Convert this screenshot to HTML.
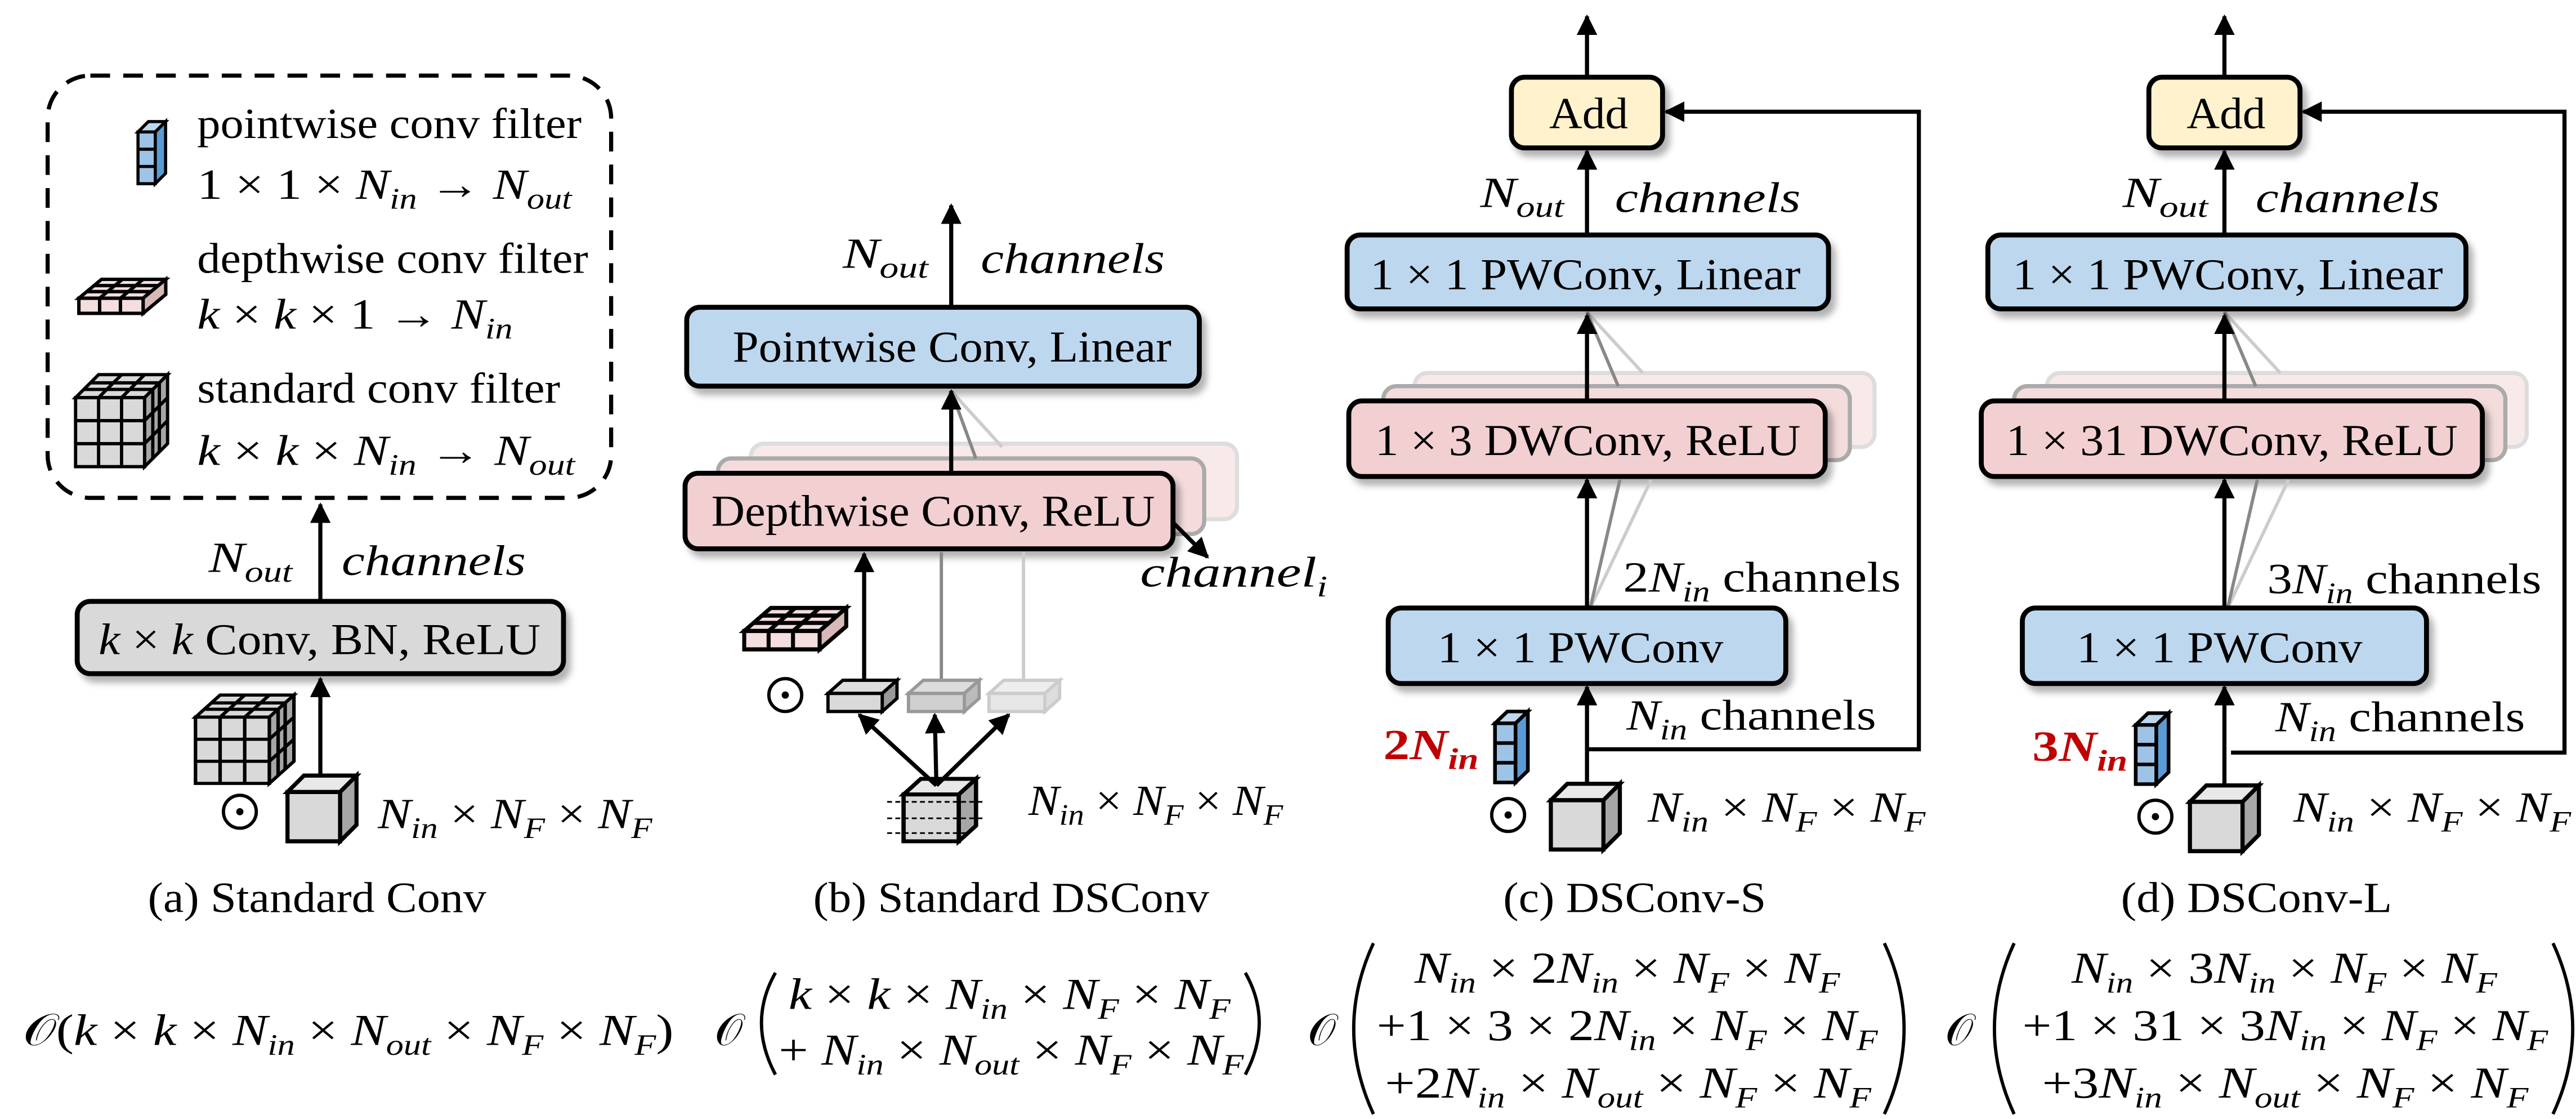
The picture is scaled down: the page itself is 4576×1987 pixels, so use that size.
<!DOCTYPE html>
<html><head><meta charset="utf-8">
<style>
html,body{margin:0;padding:0;background:#fff;}
svg{display:block;}
svg text{font-family:"Liberation Serif","DejaVu Serif","Times New Roman",serif;fill:#000;}
.i{font-style:italic;}
.s{font-size:18px;font-style:italic;}
</style></head>
<body>
<svg width="4576" height="1987" viewBox="0 0 1568 681" preserveAspectRatio="none" xmlns="http://www.w3.org/2000/svg" font-family="Liberation Serif, DejaVu Serif, serif">
<defs>
<marker id="ah" viewBox="0 0 10 10" refX="9" refY="5" markerWidth="5" markerHeight="5" orient="auto-start-reverse"><path d="M0,0 L10,5 L0,10 z" fill="#000"/></marker>
<filter id="sh" x="-10%" y="-10%" width="130%" height="140%"><feDropShadow dx="3" dy="4" stdDeviation="2" flood-color="#000" flood-opacity="0.3"/></filter>
<g id="gridcube" stroke="#000" stroke-width="2" fill="#d9d9d9">
 <polygon points="0,14 14,0 56,0 42,14"/>
 <polygon points="42,14 56,0 56,42 42,56" fill="#a6a6a6"/>
 <rect x="0" y="14" width="42" height="42"/>
 <path d="M14,14V56M28,14V56M0,28H42M0,42H42M5,9H47M9,5H51M14,14L28,0M28,14L42,0M47,9V51M51,5V47M42,28L56,14M42,42L56,28" fill="none"/>
</g>
<g id="pw" stroke="#000" stroke-width="1.8" fill="#9dc3e6">
 <polygon points="0,6 6,0 16,0 10,6" fill="#bdd7ee"/>
 <polygon points="10,6 16,0 16,30 10,36" fill="#5b9bd5"/>
 <rect x="0" y="6" width="10" height="30"/>
 <path d="M0,16H10M0,26H10" fill="none"/>
</g>
<g id="dw" stroke="#000" stroke-width="1.8" fill="#f4dede">
 <polygon points="0,10 12,0 46,0 34,10"/>
 <polygon points="34,10 46,0 46,8 34,18" fill="#d9b8b8"/>
 <rect x="0" y="10" width="34" height="8"/>
 <path d="M11,10V18M22,10V18M11,10L23,0M22,10L34,0M4,6.5H38M8,3.3H42" fill="none"/>
</g>
<g id="cube" stroke="#000" stroke-width="2.5" fill="#d9d9d9">
 <polygon points="0,10 10,0 42,0 32,10" fill="#e8e8e8"/>
 <polygon points="32,10 42,0 42,30 32,40" fill="#a6a6a6"/>
 <rect x="0" y="10" width="32" height="30"/>
</g>
</defs>

<!-- Legend -->
<rect x="29" y="46" width="343" height="257" rx="26" fill="none" stroke="#000" stroke-width="2.5" stroke-dasharray="12,8"/>
<use href="#pw" transform="translate(84,74) scale(1.05)"/>
<text x="120" y="84" font-size="26" textLength="234" lengthAdjust="spacingAndGlyphs">pointwise conv filter</text>
<text x="120" y="121" font-size="26" textLength="228" lengthAdjust="spacingAndGlyphs">1 × 1 × <tspan class="i">N</tspan><tspan class="s" dy="6">in</tspan><tspan dy="-6"> → </tspan><tspan class="i">N</tspan><tspan class="s" dy="6">out</tspan></text>
<use href="#dw" transform="translate(48,170) scale(1.15)"/>
<text x="120" y="166" font-size="26" textLength="238" lengthAdjust="spacingAndGlyphs">depthwise conv filter</text>
<text x="120" y="200" font-size="26" textLength="192" lengthAdjust="spacingAndGlyphs"><tspan class="i">k</tspan> × <tspan class="i">k</tspan> × 1 → <tspan class="i">N</tspan><tspan class="s" dy="6">in</tspan></text>
<use href="#gridcube" x="46" y="228"/>
<text x="120" y="245" font-size="26" textLength="221" lengthAdjust="spacingAndGlyphs">standard conv filter</text>
<text x="120" y="283" font-size="26" textLength="230" lengthAdjust="spacingAndGlyphs"><tspan class="i">k</tspan> × <tspan class="i">k</tspan> × <tspan class="i">N</tspan><tspan class="s" dy="6">in</tspan><tspan dy="-6"> → </tspan><tspan class="i">N</tspan><tspan class="s" dy="6">out</tspan></text>

<!-- (a) -->
<line x1="195" y1="366" x2="195" y2="307" stroke="#000" stroke-width="2.5" marker-end="url(#ah)"/>
<text x="127" y="348" font-size="26" textLength="51" lengthAdjust="spacingAndGlyphs"><tspan class="i">N</tspan><tspan class="s" dy="6">out</tspan></text>
<text x="208" y="350" font-size="26" class="i" textLength="112" lengthAdjust="spacingAndGlyphs">channels</text>
<rect x="47" y="366" width="296" height="44" rx="8" fill="#d9d9d9" stroke="#000" stroke-width="3" filter="url(#sh)"/>
<text x="60" y="398" font-size="27" textLength="269" lengthAdjust="spacingAndGlyphs"><tspan class="i">k</tspan> × <tspan class="i">k</tspan> Conv, BN, ReLU</text>
<line x1="195" y1="478" x2="195" y2="413" stroke="#000" stroke-width="2.5" marker-end="url(#ah)"/>
<use href="#gridcube" transform="translate(119,423) scale(1.07,0.96)"/>
<circle cx="146" cy="494" r="10" fill="none" stroke="#000" stroke-width="2"/><circle cx="146" cy="494" r="2.2" fill="#000"/>
<use href="#cube" x="175" y="472"/>
<text x="230" y="504" font-size="26" textLength="167" lengthAdjust="spacingAndGlyphs"><tspan class="i">N</tspan><tspan class="s" dy="6">in</tspan><tspan dy="-6"> × </tspan><tspan class="i">N</tspan><tspan class="s" dy="6">F</tspan><tspan dy="-6"> × </tspan><tspan class="i">N</tspan><tspan class="s" dy="6">F</tspan></text>
<text x="90" y="555" font-size="26" textLength="206" lengthAdjust="spacingAndGlyphs">(a) Standard Conv</text>

<!-- (b) -->
<line x1="579" y1="187" x2="579" y2="125" stroke="#000" stroke-width="2.5" marker-end="url(#ah)"/>
<text x="513" y="163" font-size="26" textLength="52" lengthAdjust="spacingAndGlyphs"><tspan class="i">N</tspan><tspan class="s" dy="6">out</tspan></text>
<text x="597" y="166" font-size="26" class="i" textLength="112" lengthAdjust="spacingAndGlyphs">channels</text>
<rect x="457" y="270" width="296" height="46" rx="8" fill="#f9eaea" stroke="#ddd" stroke-width="2.5"/>
<rect x="437" y="279" width="296" height="46" rx="8" fill="#f4dcdc" stroke="#aaa" stroke-width="2.5"/>
<line x1="579" y1="238" x2="610" y2="272" stroke="#ccc" stroke-width="2"/>
<line x1="579" y1="238" x2="594" y2="279" stroke="#888" stroke-width="2"/>
<rect x="418" y="187" width="312" height="48" rx="8" fill="#bdd7ee" stroke="#000" stroke-width="3" filter="url(#sh)"/>
<text x="446" y="220" font-size="27" textLength="267" lengthAdjust="spacingAndGlyphs">Pointwise Conv, Linear</text>
<rect x="417" y="288" width="297" height="46" rx="8" fill="#f2cfd1" stroke="#000" stroke-width="3" filter="url(#sh)"/>
<text x="433" y="320" font-size="27" textLength="270" lengthAdjust="spacingAndGlyphs">Depthwise Conv, ReLU</text>
<line x1="579" y1="288" x2="579" y2="238" stroke="#000" stroke-width="2.5" marker-end="url(#ah)"/>
<line x1="714" y1="318" x2="735" y2="339" stroke="#000" stroke-width="2.5" marker-end="url(#ah)"/>
<text x="694" y="357" font-size="26" class="i" textLength="114" lengthAdjust="spacingAndGlyphs">channel<tspan class="s" dy="6">i</tspan></text>
<line x1="573" y1="414" x2="573" y2="336" stroke="#888" stroke-width="2"/>
<line x1="623" y1="414" x2="623" y2="336" stroke="#ccc" stroke-width="2"/>
<line x1="526" y1="414" x2="526" y2="337" stroke="#000" stroke-width="2.5" marker-end="url(#ah)"/>
<use href="#dw" transform="translate(453,370) scale(1.35,1.4)"/>
<circle cx="478" cy="423" r="10" fill="none" stroke="#000" stroke-width="2"/><circle cx="478" cy="423" r="2.2" fill="#000"/>
<g stroke-width="2">
<polygon points="504,422 513,414 546,414 537,422" fill="#ddd" stroke="#000"/><polygon points="537,422 546,414 546,425 537,433" fill="#999" stroke="#000"/><rect x="504" y="422" width="33" height="11" fill="#d9d9d9" stroke="#000"/>
<polygon points="553,422 562,414 596,414 587,422" fill="#ddd" stroke="#999"/><polygon points="587,422 596,414 596,425 587,433" fill="#bbb" stroke="#999"/><rect x="553" y="422" width="34" height="11" fill="#d0d0d0" stroke="#999"/>
<polygon points="602,422 611,414 645,414 636,422" fill="#eee" stroke="#ccc"/><polygon points="636,422 645,414 645,425 636,433" fill="#ddd" stroke="#ccc"/><rect x="602" y="422" width="34" height="11" fill="#e6e6e6" stroke="#ccc"/>
</g>
<use href="#cube" transform="translate(550,474) scale(1.05,0.95)"/>
<path d="M540,488H598M540,498H598M540,507H590" stroke="#000" stroke-width="1" stroke-dasharray="3,2"/>
<line x1="570" y1="478" x2="523" y2="435" stroke="#000" stroke-width="2.5" marker-end="url(#ah)"/>
<line x1="570" y1="478" x2="569" y2="435" stroke="#000" stroke-width="2.5" marker-end="url(#ah)"/>
<line x1="570" y1="478" x2="614" y2="435" stroke="#000" stroke-width="2.5" marker-end="url(#ah)"/>
<text x="626" y="496" font-size="26" textLength="155" lengthAdjust="spacingAndGlyphs"><tspan class="i">N</tspan><tspan class="s" dy="6">in</tspan><tspan dy="-6"> × </tspan><tspan class="i">N</tspan><tspan class="s" dy="6">F</tspan><tspan dy="-6"> × </tspan><tspan class="i">N</tspan><tspan class="s" dy="6">F</tspan></text>
<text x="495" y="555" font-size="26" textLength="241" lengthAdjust="spacingAndGlyphs">(b) Standard DSConv</text>

<!-- (c) -->
<line x1="966" y1="47" x2="966" y2="10" stroke="#000" stroke-width="2.5" marker-end="url(#ah)"/>
<rect x="920" y="47" width="92" height="43" rx="8" fill="#fff2cc" stroke="#000" stroke-width="3" filter="url(#sh)"/>
<text x="943" y="78" font-size="27" textLength="48" lengthAdjust="spacingAndGlyphs">Add</text>
<line x1="966" y1="143" x2="966" y2="92" stroke="#000" stroke-width="2.5" marker-end="url(#ah)"/>
<text x="901" y="126" font-size="26" textLength="51" lengthAdjust="spacingAndGlyphs"><tspan class="i">N</tspan><tspan class="s" dy="6">out</tspan></text>
<text x="983" y="129" font-size="26" class="i" textLength="113" lengthAdjust="spacingAndGlyphs">channels</text>
<rect x="861" y="227" width="280" height="45" rx="8" fill="#f9eaea" stroke="#ddd" stroke-width="2.5"/>
<rect x="842" y="235" width="284" height="45" rx="8" fill="#f4dcdc" stroke="#aaa" stroke-width="2.5"/>
<line x1="966" y1="190" x2="1000" y2="227" stroke="#ccc" stroke-width="2"/>
<line x1="966" y1="190" x2="985" y2="235" stroke="#888" stroke-width="2"/>
<rect x="820" y="143" width="293" height="45" rx="8" fill="#bdd7ee" stroke="#000" stroke-width="3" filter="url(#sh)"/>
<text x="834" y="176" font-size="27" textLength="262" lengthAdjust="spacingAndGlyphs">1 × 1 PWConv, Linear</text>
<rect x="821" y="244" width="290" height="46" rx="8" fill="#f2cfd1" stroke="#000" stroke-width="3" filter="url(#sh)"/>
<text x="837" y="277" font-size="27" textLength="259" lengthAdjust="spacingAndGlyphs">1 × 3 DWConv, ReLU</text>
<line x1="966" y1="244" x2="966" y2="192" stroke="#000" stroke-width="2.5" marker-end="url(#ah)"/>
<line x1="968" y1="370" x2="1005" y2="292" stroke="#ccc" stroke-width="2"/>
<line x1="968" y1="370" x2="986" y2="292" stroke="#888" stroke-width="2"/>
<line x1="966" y1="370" x2="966" y2="292" stroke="#000" stroke-width="2.5" marker-end="url(#ah)"/>
<text x="988" y="360" font-size="26" textLength="169" lengthAdjust="spacingAndGlyphs">2<tspan class="i">N</tspan><tspan class="s" dy="6">in</tspan><tspan dy="-6"> channels</tspan></text>
<rect x="845" y="370" width="242" height="46" rx="8" fill="#bdd7ee" stroke="#000" stroke-width="3" filter="url(#sh)"/>
<text x="875" y="403" font-size="27" textLength="174" lengthAdjust="spacingAndGlyphs">1 × 1 PWConv</text>
<line x1="966" y1="478" x2="966" y2="418" stroke="#000" stroke-width="2.5" marker-end="url(#ah)"/>
<polyline points="966,456 1168,456 1168,68 1014,68" fill="none" stroke="#000" stroke-width="2.5" marker-end="url(#ah)"/>
<text x="990" y="444" font-size="26" textLength="152" lengthAdjust="spacingAndGlyphs"><tspan class="i">N</tspan><tspan class="s" dy="6">in</tspan><tspan dy="-6"> channels</tspan></text>
<text x="842" y="462" font-size="26" font-weight="bold" style="fill:#c00000" textLength="58" lengthAdjust="spacingAndGlyphs">2<tspan class="i">N</tspan><tspan class="s" dy="6">in</tspan></text>
<use href="#pw" transform="translate(910,433) scale(1.25,1.2)"/>
<circle cx="918" cy="496" r="10" fill="none" stroke="#000" stroke-width="2"/><circle cx="918" cy="496" r="2.2" fill="#000"/>
<use href="#cube" x="944" y="477"/>
<text x="1003" y="500" font-size="26" textLength="169" lengthAdjust="spacingAndGlyphs"><tspan class="i">N</tspan><tspan class="s" dy="6">in</tspan><tspan dy="-6"> × </tspan><tspan class="i">N</tspan><tspan class="s" dy="6">F</tspan><tspan dy="-6"> × </tspan><tspan class="i">N</tspan><tspan class="s" dy="6">F</tspan></text>
<text x="915" y="555" font-size="26" textLength="160" lengthAdjust="spacingAndGlyphs">(c) DSConv-S</text>

<!-- (d) -->
<line x1="1354" y1="47" x2="1354" y2="10" stroke="#000" stroke-width="2.5" marker-end="url(#ah)"/>
<rect x="1308" y="47" width="92" height="43" rx="8" fill="#fff2cc" stroke="#000" stroke-width="3" filter="url(#sh)"/>
<text x="1331" y="78" font-size="27" textLength="48" lengthAdjust="spacingAndGlyphs">Add</text>
<line x1="1354" y1="143" x2="1354" y2="92" stroke="#000" stroke-width="2.5" marker-end="url(#ah)"/>
<text x="1292" y="126" font-size="26" textLength="52" lengthAdjust="spacingAndGlyphs"><tspan class="i">N</tspan><tspan class="s" dy="6">out</tspan></text>
<text x="1373" y="129" font-size="26" class="i" textLength="112" lengthAdjust="spacingAndGlyphs">channels</text>
<rect x="1246" y="227" width="292" height="45" rx="8" fill="#f9eaea" stroke="#ddd" stroke-width="2.5"/>
<rect x="1226" y="235" width="299" height="45" rx="8" fill="#f4dcdc" stroke="#aaa" stroke-width="2.5"/>
<line x1="1354" y1="190" x2="1388" y2="227" stroke="#ccc" stroke-width="2"/>
<line x1="1354" y1="190" x2="1373" y2="235" stroke="#888" stroke-width="2"/>
<rect x="1210" y="143" width="291" height="45" rx="8" fill="#bdd7ee" stroke="#000" stroke-width="3" filter="url(#sh)"/>
<text x="1225" y="176" font-size="27" textLength="262" lengthAdjust="spacingAndGlyphs">1 × 1 PWConv, Linear</text>
<rect x="1206" y="244" width="305" height="46" rx="8" fill="#f2cfd1" stroke="#000" stroke-width="3" filter="url(#sh)"/>
<text x="1221" y="277" font-size="27" textLength="275" lengthAdjust="spacingAndGlyphs">1 × 31 DWConv, ReLU</text>
<line x1="1354" y1="244" x2="1354" y2="192" stroke="#000" stroke-width="2.5" marker-end="url(#ah)"/>
<line x1="1356" y1="370" x2="1393" y2="292" stroke="#ccc" stroke-width="2"/>
<line x1="1356" y1="370" x2="1374" y2="292" stroke="#888" stroke-width="2"/>
<line x1="1354" y1="370" x2="1354" y2="292" stroke="#000" stroke-width="2.5" marker-end="url(#ah)"/>
<text x="1380" y="361" font-size="26" textLength="167" lengthAdjust="spacingAndGlyphs">3<tspan class="i">N</tspan><tspan class="s" dy="6">in</tspan><tspan dy="-6"> channels</tspan></text>
<rect x="1231" y="370" width="246" height="46" rx="8" fill="#bdd7ee" stroke="#000" stroke-width="3" filter="url(#sh)"/>
<text x="1264" y="403" font-size="27" textLength="174" lengthAdjust="spacingAndGlyphs">1 × 1 PWConv</text>
<line x1="1354" y1="478" x2="1354" y2="418" stroke="#000" stroke-width="2.5" marker-end="url(#ah)"/>
<polyline points="1358,458 1561,458 1561,68 1402,68" fill="none" stroke="#000" stroke-width="2.5" marker-end="url(#ah)"/>
<text x="1385" y="445" font-size="26" textLength="152" lengthAdjust="spacingAndGlyphs"><tspan class="i">N</tspan><tspan class="s" dy="6">in</tspan><tspan dy="-6"> channels</tspan></text>
<text x="1237" y="463" font-size="26" font-weight="bold" style="fill:#c00000" textLength="58" lengthAdjust="spacingAndGlyphs">3<tspan class="i">N</tspan><tspan class="s" dy="6">in</tspan></text>
<use href="#pw" transform="translate(1300,434) scale(1.25,1.2)"/>
<circle cx="1312" cy="497" r="10" fill="none" stroke="#000" stroke-width="2"/><circle cx="1312" cy="497" r="2.2" fill="#000"/>
<use href="#cube" x="1333" y="478"/>
<text x="1396" y="500" font-size="26" textLength="169" lengthAdjust="spacingAndGlyphs"><tspan class="i">N</tspan><tspan class="s" dy="6">in</tspan><tspan dy="-6"> × </tspan><tspan class="i">N</tspan><tspan class="s" dy="6">F</tspan><tspan dy="-6"> × </tspan><tspan class="i">N</tspan><tspan class="s" dy="6">F</tspan></text>
<text x="1291" y="555" font-size="26" textLength="165" lengthAdjust="spacingAndGlyphs">(d) DSConv-L</text>

<!-- Formulas -->
<text x="14" y="636" font-size="27" textLength="396" lengthAdjust="spacingAndGlyphs">𝒪(<tspan class="i">k</tspan> × <tspan class="i">k</tspan> × <tspan class="i">N</tspan><tspan class="s" dy="6">in</tspan><tspan dy="-6"> × </tspan><tspan class="i">N</tspan><tspan class="s" dy="6">out</tspan><tspan dy="-6"> × </tspan><tspan class="i">N</tspan><tspan class="s" dy="6">F</tspan><tspan dy="-6"> × </tspan><tspan class="i">N</tspan><tspan class="s" dy="6">F</tspan><tspan dy="-6">)</tspan></text>

<text x="435" y="636" font-size="27">𝒪</text>
<path d="M472,592 Q455,622 472,654" fill="none" stroke="#000" stroke-width="2"/>
<path d="M758,592 Q775,622 758,654" fill="none" stroke="#000" stroke-width="2"/>
<text x="480" y="614" font-size="27" textLength="269" lengthAdjust="spacingAndGlyphs"><tspan class="i">k</tspan> × <tspan class="i">k</tspan> × <tspan class="i">N</tspan><tspan class="s" dy="6">in</tspan><tspan dy="-6"> × </tspan><tspan class="i">N</tspan><tspan class="s" dy="6">F</tspan><tspan dy="-6"> × </tspan><tspan class="i">N</tspan><tspan class="s" dy="6">F</tspan></text>
<text x="474" y="648" font-size="27" textLength="283" lengthAdjust="spacingAndGlyphs">+ <tspan class="i">N</tspan><tspan class="s" dy="6">in</tspan><tspan dy="-6"> × </tspan><tspan class="i">N</tspan><tspan class="s" dy="6">out</tspan><tspan dy="-6"> × </tspan><tspan class="i">N</tspan><tspan class="s" dy="6">F</tspan><tspan dy="-6"> × </tspan><tspan class="i">N</tspan><tspan class="s" dy="6">F</tspan></text>

<text x="796" y="636" font-size="27">𝒪</text>
<path d="M836,574 Q812,626 836,678" fill="none" stroke="#000" stroke-width="2"/>
<path d="M1147,574 Q1171,626 1147,678" fill="none" stroke="#000" stroke-width="2"/>
<text x="861" y="598" font-size="27" textLength="259" lengthAdjust="spacingAndGlyphs"><tspan class="i">N</tspan><tspan class="s" dy="6">in</tspan><tspan dy="-6"> × 2</tspan><tspan class="i">N</tspan><tspan class="s" dy="6">in</tspan><tspan dy="-6"> × </tspan><tspan class="i">N</tspan><tspan class="s" dy="6">F</tspan><tspan dy="-6"> × </tspan><tspan class="i">N</tspan><tspan class="s" dy="6">F</tspan></text>
<text x="838" y="633" font-size="27" textLength="305" lengthAdjust="spacingAndGlyphs">+1 × 3 × 2<tspan class="i">N</tspan><tspan class="s" dy="6">in</tspan><tspan dy="-6"> × </tspan><tspan class="i">N</tspan><tspan class="s" dy="6">F</tspan><tspan dy="-6"> × </tspan><tspan class="i">N</tspan><tspan class="s" dy="6">F</tspan></text>
<text x="843" y="668" font-size="27" textLength="296" lengthAdjust="spacingAndGlyphs">+2<tspan class="i">N</tspan><tspan class="s" dy="6">in</tspan><tspan dy="-6"> × </tspan><tspan class="i">N</tspan><tspan class="s" dy="6">out</tspan><tspan dy="-6"> × </tspan><tspan class="i">N</tspan><tspan class="s" dy="6">F</tspan><tspan dy="-6"> × </tspan><tspan class="i">N</tspan><tspan class="s" dy="6">F</tspan></text>

<text x="1184" y="636" font-size="27">𝒪</text>
<path d="M1226,574 Q1202,626 1226,678" fill="none" stroke="#000" stroke-width="2"/>
<path d="M1554,574 Q1578,626 1554,678" fill="none" stroke="#000" stroke-width="2"/>
<text x="1261" y="598" font-size="27" textLength="259" lengthAdjust="spacingAndGlyphs"><tspan class="i">N</tspan><tspan class="s" dy="6">in</tspan><tspan dy="-6"> × 3</tspan><tspan class="i">N</tspan><tspan class="s" dy="6">in</tspan><tspan dy="-6"> × </tspan><tspan class="i">N</tspan><tspan class="s" dy="6">F</tspan><tspan dy="-6"> × </tspan><tspan class="i">N</tspan><tspan class="s" dy="6">F</tspan></text>
<text x="1231" y="633" font-size="27" textLength="320" lengthAdjust="spacingAndGlyphs">+1 × 31 × 3<tspan class="i">N</tspan><tspan class="s" dy="6">in</tspan><tspan dy="-6"> × </tspan><tspan class="i">N</tspan><tspan class="s" dy="6">F</tspan><tspan dy="-6"> × </tspan><tspan class="i">N</tspan><tspan class="s" dy="6">F</tspan></text>
<text x="1243" y="668" font-size="27" textLength="296" lengthAdjust="spacingAndGlyphs">+3<tspan class="i">N</tspan><tspan class="s" dy="6">in</tspan><tspan dy="-6"> × </tspan><tspan class="i">N</tspan><tspan class="s" dy="6">out</tspan><tspan dy="-6"> × </tspan><tspan class="i">N</tspan><tspan class="s" dy="6">F</tspan><tspan dy="-6"> × </tspan><tspan class="i">N</tspan><tspan class="s" dy="6">F</tspan></text>
</svg>
</body></html>
